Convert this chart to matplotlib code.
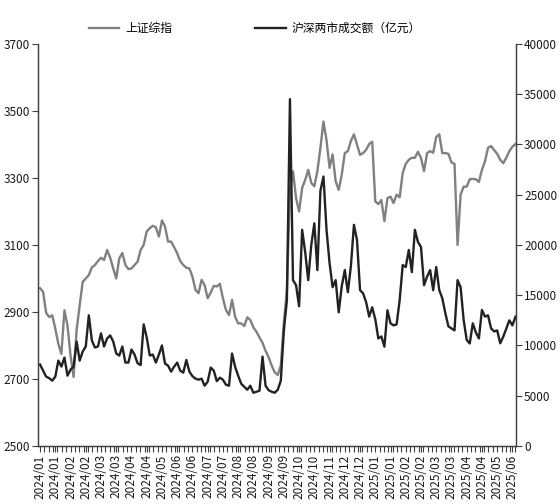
import matplotlib
matplotlib.use("Agg")
import matplotlib.pyplot as plt
from matplotlib.ticker import MultipleLocator, FixedLocator

plt.rcParams['font.family'] = ['Noto Sans CJK SC', 'DejaVu Sans']

# 上证综指 (left axis)
sse = [2971, 2960, 2897, 2885, 2890, 2850, 2805, 2775, 2905, 2860,
       2770, 2706, 2846, 2920, 2990, 3000, 3010, 3033, 3040, 3052,
       3062, 3055, 3085, 3062, 3030, 3000, 3060, 3076, 3040, 3028,
       3030, 3040, 3050, 3085, 3100, 3140, 3150, 3157, 3153, 3125,
       3173, 3155, 3110, 3110, 3093, 3075, 3052, 3040, 3032, 3030,
       3005, 2966, 2956, 2996, 2980, 2941, 2958, 2978, 2976, 2984,
       2941, 2906, 2891, 2936, 2886, 2866, 2866, 2858, 2884, 2876,
       2854, 2841, 2824, 2808, 2784, 2765, 2740, 2720, 2712, 2740,
       2866, 2966, 3264, 3320, 3240, 3200, 3270, 3294, 3324, 3285,
       3275, 3320, 3390, 3468, 3413, 3330, 3370, 3290, 3264, 3310,
       3374, 3380, 3410, 3430, 3400, 3369, 3374, 3384, 3401, 3408,
       3230, 3222, 3234, 3171, 3240, 3244, 3225, 3250, 3242, 3315,
       3342, 3354, 3360, 3360, 3378, 3360, 3320, 3374, 3380, 3375,
       3422, 3430, 3374, 3374, 3372, 3346, 3342, 3100, 3250, 3274,
       3274, 3296, 3297, 3296, 3288, 3324, 3349, 3390, 3395, 3383,
       3372, 3354, 3344, 3360, 3380, 3393, 3401]

# 沪深两市成交额（亿元） (right axis)
turnover = [8100, 7500, 6900, 6750, 6500, 6900, 8500, 7900, 8800, 7000,
            7600, 7900, 10380, 8500, 9400, 9900, 13000, 10500, 9800, 9900,
            11200, 9900, 10700, 11000, 10400, 9200, 9000, 9900, 8300, 8300,
            9600, 9100, 8230, 8060, 12100, 10800, 9000, 9100, 8300, 9100,
            10000, 8200, 8000, 7400, 7900, 8300, 7500, 7300, 8560, 7400,
            6950, 6700, 6600, 6700, 6000, 6400, 7800, 7500, 6450, 6800,
            6600, 6100, 6000, 9200, 7890, 7000, 6200, 5900, 5600, 6000,
            5300, 5400, 5500, 8890, 6000, 5550, 5400, 5300, 5600, 6500,
            11500, 14500, 34500, 16500, 16000, 13900, 21500, 19300, 16500, 20000,
            22150, 17500, 25400, 26800, 21500, 18200, 15800, 16500, 13300, 15900,
            17500, 15300, 17900, 22000, 20500, 15500, 15190, 14300, 12870, 13800,
            12600, 10700, 10900, 9880, 13500, 12200, 12000, 12100, 14500, 18000,
            17800, 19500, 17300, 21500, 20300, 19800, 16000, 16850, 17500, 15500,
            17800, 15500, 14700, 13200, 11900, 11700, 11500, 16500, 15800, 12540,
            10550, 10200, 12200, 11300, 10700, 13530, 12870, 13000, 11700, 11400,
            11500, 10220, 10880, 11700, 12500, 12000, 12870]

month_labels = ['2024/01', '2024/01', '2024/02', '2024/02', '2024/03', '2024/03',
                '2024/04', '2024/04', '2024/05', '2024/06', '2024/06', '2024/07',
                '2024/07', '2024/08', '2024/08', '2024/09', '2024/09', '2024/10',
                '2024/10', '2024/11', '2024/12', '2024/12', '2025/01', '2025/01',
                '2025/02', '2025/02', '2025/03', '2025/03', '2025/04', '2025/04',
                '2025/05', '2025/06']

left_ticks = [2500, 2700, 2900, 3100, 3300, 3500, 3700]

label_step = 5
x = list(range(len(sse)))
spine_col = '#404040'

fig = plt.figure(figsize=(5.6, 5.04), dpi=100)
ax = fig.add_axes([0.068, 0.115, 0.853, 0.798])
ax2 = ax.twinx()

l1, = ax.plot(x, sse, color='#808080', lw=1.7, label='上证综指')
l2, = ax2.plot(x, turnover, color='#222222', lw=1.7, label='沪深两市成交额（亿元）')

ax.set_xlim(-0.65, len(sse) - 0.9)
ax.set_ylim(2500, 3700)
ax.yaxis.set_major_locator(FixedLocator(left_ticks))
ax2.set_ylim(0, 40000)
ax2.yaxis.set_major_locator(MultipleLocator(5000))

ax.set_xticks([i * label_step for i in range(len(month_labels))])
ax.set_xticklabels(month_labels, rotation=90)
ax.xaxis.set_minor_locator(MultipleLocator(label_step / 3.5))

for a in (ax, ax2):
    a.spines['top'].set_visible(False)
    for s in a.spines.values():
        s.set_color(spine_col)
        s.set_linewidth(0.9)
    a.tick_params(which='both', direction='out', length=4, width=0.8,
                  color=spine_col, labelsize=8.5, labelcolor='#1a1a1a', pad=2)
ax.tick_params(axis='x', which='minor', length=4)

fig.legend(handles=[l1, l2], loc='center', bbox_to_anchor=(0.455, 0.943),
           ncol=2, frameon=False, fontsize=8.5, handlelength=2.6,
           handletextpad=0.5, columnspacing=7)

fig.savefig('out.png', dpi=100)
